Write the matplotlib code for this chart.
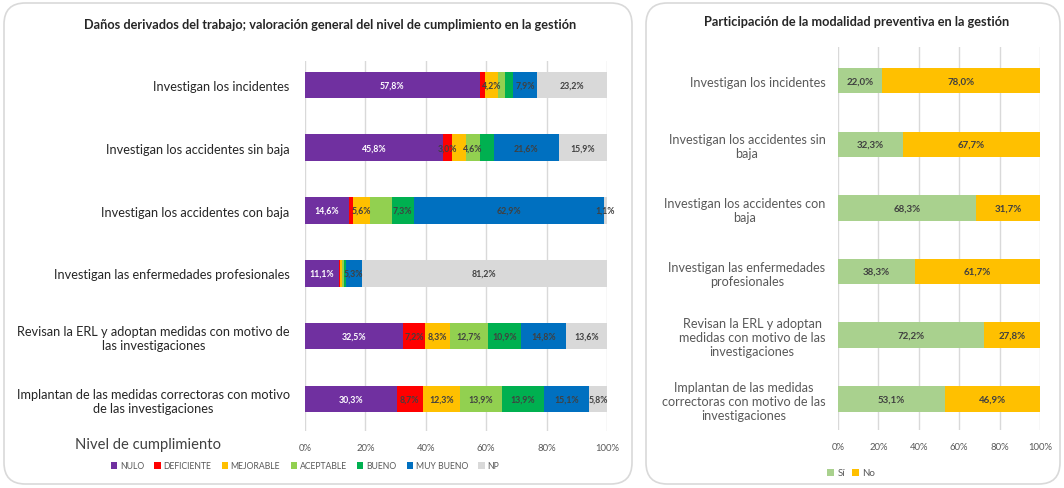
import matplotlib as mpl
import matplotlib.pyplot as plt
import numpy as np
from matplotlib.patches import FancyBboxPatch
from matplotlib.ticker import PercentFormatter

mpl.rcParams['font.family'] = ['Lato', 'DejaVu Sans']

# ======= ====================================================================
#  DATA
# ======= ====================================================================

cats_left = ['Investigan los incidentes',
             'Investigan los accidentes sin baja',
             'Investigan los accidentes con baja',
             'Investigan las enfermedades profesionales',
             'Revisan la ERL y adoptan medidas con motivo de\nlas investigaciones',
             'Implantan de las medidas correctoras con motivo\nde las investigaciones']

niveles = ['NULO', 'DEFICIENTE', 'MEJORABLE', 'ACEPTABLE', 'BUENO', 'MUY BUENO', 'NP']

nulo = [57.8, 45.8, 14.6, 11.1, 32.5, 30.3]
deficiente = [1.8, 3.0, 1.4, 0.6, 7.2, 8.7]
mejorable = [4.2, 4.4, 5.6, 0.6, 8.3, 12.3]
aceptable = [2.5, 4.6, 7.1, 0.6, 12.7, 13.9]
bueno = [2.6, 4.7, 7.3, 0.6, 10.9, 13.9]
muy_bueno = [7.9, 21.6, 62.9, 5.3, 14.8, 15.1]
np_ = [23.2, 15.9, 1.1, 81.2, 13.6, 5.8]

cats_right = ['Investigan los incidentes',
              'Investigan los accidentes sin\nbaja',
              'Investigan los accidentes con\nbaja',
              'Investigan las enfermedades\nprofesionales',
              'Revisan la ERL y adoptan\nmedidas con motivo de las\ninvestigaciones',
              'Implantan de las medidas\ncorrectoras con motivo de las\ninvestigaciones']

si = [22.0, 32.3, 68.3, 38.3, 72.2, 53.1]
no = [78.0, 67.7, 31.7, 61.7, 27.8, 46.9]

# ======== ===================================================================
#  COLORS
# ======== ===================================================================

cols_left = ['#7030A0', '#FF0000', '#FFC000', '#92D050', '#00B050', '#0070C0', '#D9D9D9']
cols_right = {'Sí': '#A9D18E', 'No': '#FFC000'}
grid_col = '#D9D9D9'
txt_dark = '#404040'
txt_grey = '#595959'

W, H = 1064, 489
fig = plt.figure(figsize=(W / 100, H / 100), dpi=100)
renderer = fig.canvas.get_renderer()


def px_axes(x0, y0, x1, y1):
    # pixel box (top-left origin) -> figure axes
    return fig.add_axes([x0 / W, 1 - y1 / H, (x1 - x0) / W, (y1 - y0) / H])


def fmt(v):
    return f'{v:.1f}%'.replace('.', ',')


# panel frames
for (x0, x1) in [(4, 632), (646, 1060)]:
    fig.patches.append(FancyBboxPatch((x0 / W, 4 / H), (x1 - x0) / W, (H - 8) / H,
                                      boxstyle='round,pad=0,rounding_size=0.02',
                                      transform=fig.transFigure, fc='white',
                                      ec='#D9D9D9', lw=1.2, zorder=-1,
                                      mutation_aspect=W / H))

# ====== =====================================================================
#  LEFT CHART
# ====== =====================================================================

ax = px_axes(305, 62, 607, 432)
ax.set_xlim(0, 100)
ax.set_ylim(5.51, -0.38)
series = [nulo, deficiente, mejorable, aceptable, bueno, muy_bueno, np_]
y = np.arange(len(cats_left))
left = np.zeros(len(cats_left))
handles = []
last_right = {}  # per row: right edge (px) of the last label kept
for name, vals, c in zip(niveles, series, cols_left):
    vals = np.array(vals)
    b = ax.barh(y, vals, left=left, height=0.42, color=c, label=name, zorder=2)
    handles.append(b)
    for yi, l, v in zip(y, left, vals):
        if v < 3 and name != 'NP':
            continue
        tc = 'white' if name == 'NULO' else txt_dark
        t = ax.text(l + v / 2, yi, fmt(v), ha='center', va='center',
                    fontsize=6.3, fontweight='bold', color=tc, zorder=3)
        bb = t.get_window_extent(renderer)
        # drop labels that would collide with the previous one in the row
        if bb.x0 < last_right.get(yi, -1e9) + 1:
            t.remove()
        else:
            last_right[yi] = bb.x1
    left += vals

ax.set_xticks(np.arange(0, 101, 20))
ax.xaxis.set_major_formatter(PercentFormatter(decimals=0))
ax.set_yticks(y)
ax.set_yticklabels(cats_left, fontsize=9.2, color='#262626', multialignment='center')
ax.tick_params(axis='y', length=0, pad=11)
ax.tick_params(axis='x', length=0, pad=9, labelsize=6.8, labelcolor=txt_grey)
ax.grid(axis='x', color=grid_col, lw=1, zorder=0)
for s in ax.spines.values():
    s.set_visible(False)

fig.text(330 / W, 1 - 25 / H,
         'Daños derivados del trabajo; valoración general del nivel de cumplimiento en la gestión',
         ha='center', va='center', fontsize=9.2, fontweight='bold', color='#262626')
fig.text(75 / W, 1 - 445 / H, 'Nivel de cumplimiento', ha='left', va='center',
         fontsize=10.6, color=txt_dark)
fig.legend(handles, niveles, loc='center', bbox_to_anchor=(305 / W, 1 - 467 / H),
           ncol=7, frameon=False, fontsize=6.2, handlelength=0.75, handleheight=0.75,
           handletextpad=0.3, columnspacing=1.2, labelcolor=txt_grey)

# ====== =====================================================================
#  RIGHT CHART
# ====== =====================================================================

ax2 = px_axes(838, 48, 1040, 431)
y2 = np.arange(len(cats_right))
b1 = ax2.barh(y2, si, height=0.4, color=cols_right['Sí'], zorder=2)
b2 = ax2.barh(y2, no, left=si, height=0.4, color=cols_right['No'], zorder=2)
for yi, s_, n_ in zip(y2, si, no):
    ax2.text(s_ / 2, yi, fmt(s_), ha='center', va='center', fontsize=7,
             fontweight='bold', color=txt_dark, zorder=3)
    ax2.text(s_ + n_ / 2, yi, fmt(n_), ha='center', va='center', fontsize=7,
             fontweight='bold', color=txt_dark, zorder=3)

ax2.set_xlim(0, 100)
ax2.set_ylim(5.49, -0.53)
ax2.set_xticks(np.arange(0, 101, 20))
ax2.xaxis.set_major_formatter(PercentFormatter(decimals=0))
ax2.set_yticks(y2)
ax2.set_yticklabels(cats_right, fontsize=9.1, color=txt_grey, multialignment='center')
ax2.tick_params(axis='y', length=0, pad=9)
ax2.tick_params(axis='x', length=0, pad=9, labelsize=6.8, labelcolor=txt_grey)
ax2.grid(axis='x', color=grid_col, lw=1, zorder=0)
for s in ax2.spines.values():
    s.set_visible(False)

fig.text(857 / W, 1 - 22 / H, 'Participación de la modalidad preventiva en la gestión',
         ha='center', va='center', fontsize=9.2, fontweight='bold', color='#262626')
fig.legend([b1, b2], ['Sí', 'No'], loc='center', bbox_to_anchor=(851 / W, 1 - 474 / H),
           ncol=2, frameon=False, fontsize=7, handlelength=0.75, handleheight=0.75,
           handletextpad=0.3, columnspacing=0.7, labelcolor=txt_grey)

fig.savefig('out.png', dpi=100, facecolor='white')
